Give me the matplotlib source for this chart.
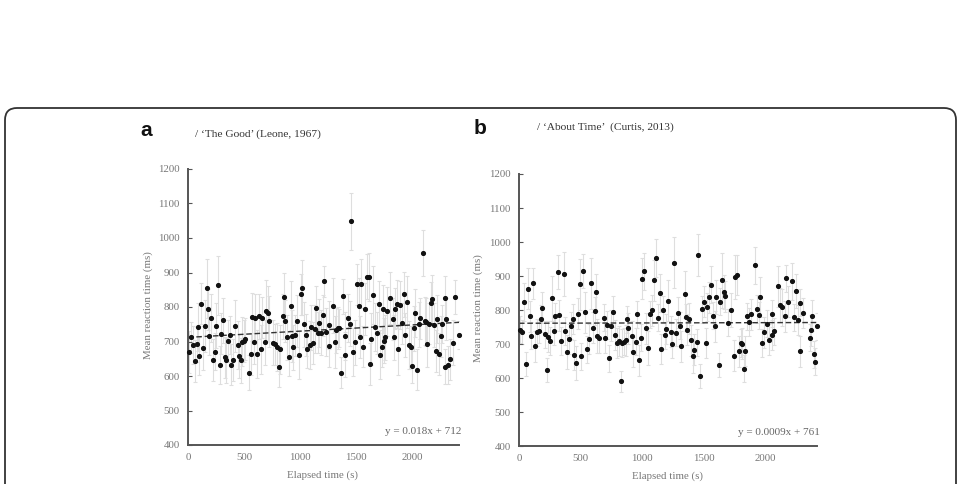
import matplotlib
matplotlib.use('Agg')
import matplotlib.pyplot as plt
from matplotlib.patches import FancyBboxPatch
import numpy as np

# panel a : 'The Good' (Leone, 1967)
time_a = [12, 27, 48, 60, 77, 86, 101, 119, 131, 149,
          167, 179, 190, 208, 220, 238, 250, 271, 286, 298,
          315, 327, 339, 357, 375, 387, 399, 417, 446, 458,
          470, 482, 500, 512, 542, 560, 571, 589, 601, 613,
          631, 649, 661, 685, 696, 714, 726, 756, 774, 792,
          810, 821, 845, 857, 869, 887, 899, 917, 929, 940,
          958, 976, 988, 1006, 1018, 1036, 1054, 1060, 1090, 1095,
          1113, 1137, 1140, 1158, 1173, 1185, 1202, 1217, 1232, 1256,
          1262, 1292, 1310, 1321, 1339, 1351, 1369, 1381, 1399, 1405,
          1428, 1446, 1458, 1470, 1488, 1506, 1524, 1536, 1548, 1565,
          1577, 1595, 1613, 1625, 1637, 1655, 1667, 1684, 1702, 1714,
          1732, 1744, 1750, 1756, 1780, 1804, 1827, 1839, 1851, 1863,
          1875, 1893, 1911, 1929, 1940, 1952, 1976, 1988, 2000, 2018,
          2030, 2048, 2060, 2071, 2095, 2113, 2125, 2137, 2155, 2167,
          2179, 2196, 2214, 2226, 2238, 2256, 2268, 2292, 2298, 2304,
          2321, 2339, 2369, 2381, 2417]
rt_a = [669, 712, 689, 643, 692, 742, 658, 810, 681, 744,
        854, 793, 717, 768, 646, 671, 746, 863, 633, 723,
        762, 654, 646, 702, 719, 633, 646, 746, 689, 658,
        646, 700, 702, 707, 610, 664, 772, 700, 767, 664,
        773, 677, 769, 698, 788, 782, 758, 696, 692, 685,
        627, 677, 773, 828, 759, 712, 654, 804, 715, 683,
        718, 760, 660, 837, 856, 750, 719, 677, 689, 741,
        696, 736, 796, 726, 754, 726, 776, 874, 727, 687,
        747, 804, 698, 732, 739, 740, 610, 831, 715, 662,
        769, 752, 1048, 669, 698, 866, 803, 713, 868, 685,
        794, 888, 886, 635, 707, 835, 743, 725, 809, 662,
        685, 795, 702, 712, 787, 827, 765, 712, 795, 809,
        677, 806, 753, 837, 719, 814, 690, 685, 629, 738,
        782, 618, 750, 767, 957, 759, 756, 692, 752, 812,
        822, 748, 673, 765, 664, 715, 752, 825, 627, 765,
        631, 648, 696, 829, 719]
err_a = [60, 45, 55, 60, 50, 70, 55, 60, 65, 75,
         85, 60, 55, 70, 60, 55, 65, 85, 55, 60,
         65, 60, 65, 60, 55, 60, 60, 75, 70, 65,
         65, 70, 60, 60, 50, 60, 70, 65, 70, 70,
         65, 70, 60, 65, 90, 80, 75, 65, 60, 70,
         60, 70, 65, 70, 60, 65, 55, 70, 75, 65,
         60, 75, 70, 60, 80, 65, 60, 55, 70, 65,
         60, 70, 65, 60, 70, 65, 60, 45, 70, 60,
         70, 80, 75, 65, 60, 55, 45, 50, 70, 65,
         70, 65, 82, 70, 65, 60, 80, 60, 70, 60,
         75, 65, 70, 60, 75, 85, 70, 60, 65, 70,
         60, 70, 65, 65, 70, 75, 60, 65, 60, 70,
         75, 70, 60, 65, 65, 75, 70, 60, 50, 65,
         70, 60, 65, 60, 67, 70, 70, 65, 60, 60,
         70, 65, 60, 70, 60, 60, 55, 65, 50, 60,
         55, 60, 65, 50, 40]

# panel b : 'About Time' (Curtis, 2013)
time_b = [5, 27, 44, 60, 76, 87, 98, 114, 131, 147,
          163, 180, 190, 212, 229, 234, 250, 267, 283, 294,
          313, 326, 343, 364, 375, 386, 403, 419, 435, 446,
          462, 479, 495, 506, 522, 539, 549, 566, 588, 598,
          615, 626, 636, 653, 691, 696, 718, 729, 751, 762,
          778, 794, 811, 827, 838, 854, 870, 881, 887, 914,
          925, 947, 958, 974, 990, 1001, 1017, 1034, 1050, 1061,
          1077, 1093, 1110, 1126, 1142, 1153, 1170, 1186, 1197, 1213,
          1235, 1246, 1257, 1278, 1289, 1306, 1316, 1344, 1360, 1365,
          1382, 1393, 1409, 1420, 1442, 1452, 1469, 1485, 1501, 1518,
          1523, 1545, 1561, 1572, 1594, 1599, 1621, 1632, 1648, 1664,
          1675, 1700, 1724, 1746, 1752, 1768, 1784, 1800, 1811, 1828,
          1839, 1855, 1870, 1882, 1920, 1931, 1948, 1958, 1975, 1991,
          2010, 2029, 2051, 2056, 2072, 2100, 2116, 2138, 2159, 2170,
          2187, 2219, 2236, 2246, 2263, 2280, 2285, 2306, 2361, 2372,
          2377, 2399, 2405, 2421]
rt_b = [742, 736, 824, 642, 863, 781, 724, 878, 693, 734,
        737, 774, 807, 728, 623, 722, 709, 834, 738, 781,
        912, 784, 709, 905, 738, 676, 715, 754, 774, 668,
        644, 789, 876, 664, 914, 793, 685, 715, 878, 748,
        797, 852, 724, 719, 777, 719, 756, 658, 754, 795,
        726, 703, 709, 590, 703, 707, 711, 773, 746, 724,
        676, 707, 787, 652, 719, 892, 914, 746, 689, 787,
        799, 887, 953, 777, 850, 685, 801, 726, 744, 827,
        736, 699, 939, 733, 792, 754, 693, 846, 779, 742,
        775, 711, 666, 683, 705, 963, 605, 802, 825, 703,
        809, 837, 875, 783, 752, 837, 638, 824, 887, 852,
        840, 763, 800, 666, 897, 903, 678, 703, 701, 627,
        679, 781, 765, 787, 931, 803, 785, 838, 703, 734,
        760, 713, 789, 727, 737, 870, 815, 808, 781, 893,
        825, 884, 779, 856, 771, 678, 821, 791, 719, 740,
        783, 670, 648, 752]
err_b = [40, 35, 55, 35, 60, 45, 40, 45, 45, 40,
         35, 40, 45, 40, 35, 45, 40, 65, 40, 40,
         50, 45, 40, 65, 40, 50, 45, 40, 45, 45,
         50, 45, 75, 40, 50, 60, 40, 45, 75, 45,
         40, 55, 50, 45, 40, 45, 40, 40, 45, 45,
         45, 45, 45, 30, 40, 40, 45, 40, 45, 45,
         45, 40, 40, 45, 40, 60, 55, 45, 50, 40,
         45, 60, 55, 40, 55, 45, 40, 40, 45, 60,
         45, 40, 75, 40, 45, 40, 45, 70, 40, 45,
         45, 45, 50, 45, 40, 62, 35, 40, 45, 45,
         40, 45, 55, 40, 45, 50, 35, 40, 80, 50,
         45, 40, 50, 45, 65, 60, 45, 40, 45, 40,
         45, 40, 40, 45, 55, 40, 40, 60, 40, 45,
         40, 45, 40, 45, 40, 60, 50, 55, 45, 40,
         45, 55, 40, 50, 45, 45, 40, 45, 40, 45,
         45, 40, 40, 40]

# trend lines (slope, intercept)
fit_a = (0.018, 712)
fit_b = (0.0009, 761)

W, H = 961, 484
fig = plt.figure(figsize=(W / 100, H / 100), dpi=100)
serif = 'Liberation Serif'

# rounded frame around the figure panel
frame = FancyBboxPatch((5, -40), 951, 416, boxstyle='round,pad=0,rounding_size=12',
                       transform=None, facecolor='none', edgecolor='#333333', linewidth=1.3)
fig.add_artist(frame)


def panel(rect, t, rt, err, fit, eq):
    ax = fig.add_axes(rect)
    ax.errorbar(t, rt, yerr=err, fmt='none', ecolor='#dedede', elinewidth=0.8,
                capsize=1.6, capthick=0.8, zorder=1)
    ax.plot(t, rt, 'o', color='#111111', markersize=2.7, zorder=3, clip_on=False)
    xs = np.array([0, 2420])
    ax.plot(xs, fit[0] * xs + fit[1], color='#333333', lw=1.0,
            linestyle=(0, (4, 2)), zorder=2)
    ax.set_xlim(0, 2420)
    ax.set_ylim(400, 1200)
    ax.set_xticks([0, 500, 1000, 1500, 2000])
    ax.set_yticks(range(400, 1201, 100))
    for s in ['top', 'right']:
        ax.spines[s].set_visible(False)
    for s in ['left', 'bottom']:
        ax.spines[s].set_color('#555555')
        ax.spines[s].set_linewidth(1.4)
    ax.tick_params(axis='y', direction='in', length=3, width=0.8, color='#555555',
                   labelsize=7.8, labelcolor='#777777', pad=6)
    ax.tick_params(axis='x', length=0, labelsize=7.8, labelcolor='#777777', pad=6)
    for lab in ax.get_xticklabels() + ax.get_yticklabels():
        lab.set_fontfamily(serif)
    ax.text(1.01, 0.05, eq, transform=ax.transAxes, ha='right', va='center',
            fontsize=8, color='#666666', family=serif)
    return ax


ax_a = panel([188 / W, 39 / H, 271 / W, 276 / H], time_a, rt_a, err_a, fit_a,
             'y = 0.018x + 712')
ax_b = panel([519 / W, 38 / H, 298 / W, 272 / H], time_b, rt_b, err_b, fit_b,
             'y = 0.0009x + 761')

# axis titles
fig.text(148 / W, 1 - 305 / H, 'Mean reaction time (ms)', rotation=90, ha='center',
         va='center', fontsize=7.8, color='#777777', family=serif)
fig.text(478 / W, 1 - 308 / H, 'Mean reaction time (ms)', rotation=90, ha='center',
         va='center', fontsize=7.8, color='#777777', family=serif)
fig.text(322 / W, 1 - 475 / H, 'Elapsed time (s)', ha='center', va='center',
         fontsize=7.8, color='#777777', family=serif)
fig.text(667 / W, 1 - 476 / H, 'Elapsed time (s)', ha='center', va='center',
         fontsize=7.8, color='#777777', family=serif)

# panel letters and titles
fig.text(140 / W, 1 - 131 / H, 'a', ha='left', va='center', fontsize=15,
         fontweight='bold', family='Liberation Sans', color='#111111')
fig.text(474 / W, 1 - 129 / H, 'b', ha='left', va='center', fontsize=15,
         fontweight='bold', family='Liberation Sans', color='#111111')
fig.text(195 / W, 1 - 134 / H, '/ \u2018The Good\u2019 (Leone, 1967)', ha='left',
         va='center', fontsize=8.2, color='#333333', family=serif)
fig.text(537 / W, 1 - 127 / H, '/ \u2018About Time\u2019  (Curtis, 2013)', ha='left',
         va='center', fontsize=8.2, color='#333333', family=serif)

fig.savefig('out.png', dpi=100)
